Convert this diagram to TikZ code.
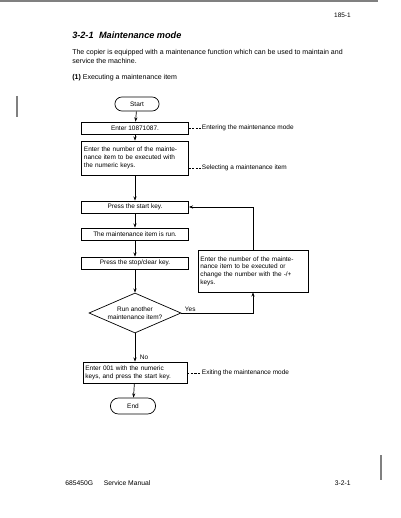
\documentclass[tikz,border=0pt]{standalone}
\usepackage{fontspec}
\setmainfont{Liberation Sans}
\usetikzlibrary{shapes.geometric, shapes.misc}
\usetikzlibrary{arrows.meta, positioning}

\begin{document}
\begin{tikzpicture}[x=0.025cm, y=-0.025cm,
        stepbox/.style={rectangle, draw, line width=0.5pt, minimum width=2.675cm, minimum height=0.3cm, inner sep=1.5pt, font=\fontsize{4.6}{5.5}\selectfont},
        termbox/.style={rounded rectangle, draw, line width=0.5pt, minimum width=1.175cm, minimum height=0.35cm, inner sep=1pt, font=\fontsize{4.6}{5.5}\selectfont},
        askbox/.style={diamond, draw, line width=0.5pt, aspect=2.3, minimum width=2.3cm, minimum height=1cm, inner sep=0pt, align=center, font=\fontsize{4.6}{5.5}\selectfont},
        note/.style={anchor=west, inner sep=0.5pt, font=\fontsize{4.6}{5.5}\selectfont},
        flow/.style={-{Stealth[length=3pt, width=2.2pt]}, line width=0.5pt},
        leader/.style={dashed, dash pattern=on 1.5pt off 1pt, line width=0.4pt},
        scanmark/.style={gray, line width=0.8pt}
    ]
        \useasboundingbox (0,0) rectangle (400,518);

        % Scan marks
        \draw[scanmark] (0,1) -- (378,1);
        \draw[scanmark] (17,96) -- (17,117);
        \draw[scanmark] (381,455) -- (381,480);

        % Page head
        \node[anchor=east, inner sep=0pt, font=\fontsize{4.6}{5.5}\selectfont] (pageno) at (351,15) {185-1};
        \node[anchor=west, inner sep=0pt, font=\fontsize{6.5}{7.5}\selectfont\bfseries\itshape] (title) at (72,35) {3-2-1\hspace{0.6em}Maintenance mode};
        \node[anchor=north west, inner sep=0pt, align=left, font=\fontsize{5}{6.4}\selectfont] (intro) at (72,49)
            {The copier is equipped with a maintenance function which can be used to maintain and\\service the machine.};
        \node[anchor=west, inner sep=0pt, font=\fontsize{5}{6}\selectfont] (sub) at (72,78) {\textbf{(1)} Executing a maintenance item};

        % Main flow
        \node[termbox] (start) at (137,104) {Start};
        \node[stepbox] (enter) at (135,128) {Enter 10871087.};
        \node[stepbox, minimum height=0.85cm, text width=2.55cm, align=left] (number) at (135,158)
            {Enter the number of the mainte-\\nance item to be executed with\\the numeric keys.};
        \node[stepbox] (press) at (135,207) {Press the start key.};
        \node[stepbox] (run) at (135,234) {The maintenance item is run.};
        \node[stepbox] (stop) at (135,263) {Press the stop/clear key.};
        \node[askbox] (another) at (135,313) {Run another\\maintenance item?};
        \node[stepbox, minimum width=2.6cm, minimum height=0.525cm, text width=2.48cm, align=left] (exit) at (135,372.5)
            {Enter 001 with the numeric\\keys, and press the start key.};
        \node[termbox, minimum width=1.2cm, minimum height=0.4cm] (end) at (133,406) {End};

        % Side box
        \node[stepbox, minimum width=2.75cm, minimum height=1.05cm, text width=2.63cm, align=left] (change) at (253,271)
            {Enter the number of the mainte-\\nance item to be executed or\\change the number with the -/+\\keys.};

        % Notes
        \node[note] (lblenter) at (201,128) {Entering the maintenance mode};
        \node[note] (lblselect) at (201,168) {Selecting a maintenance item};
        \node[note] (lblexit) at (201,373) {Exiting the maintenance mode};
        \node[note] (yes) at (184,309) {Yes};
        \node[note] (no) at (139,357) {No};

        % Connectors
        \draw[flow] (start) -- (enter);
        \draw[flow] (enter) -- (number);
        \draw[flow] (number) -- (press);
        \draw[flow] (press) -- (run);
        \draw[flow] (run) -- (stop);
        \draw[flow] (stop) -- (another);
        \draw[flow] (another) -- (exit);
        \draw[flow] (exit) -- (end);
        \draw[flow] (another.east) -| (change.south);
        \draw[flow] (change.north) |- (press.east);

        % Leaders
        \draw[leader] (enter.east) -- (lblenter.west);
        \draw[leader] (lblselect.west -| number.east) -- (lblselect.west);
        \draw[leader] (lblexit.west -| exit.east) -- (lblexit.west);

        % Page foot
        \node[anchor=west, inner sep=0pt, font=\fontsize{4.8}{6}\selectfont] (foot) at (65,483) {685450G\hspace{1.6em}Service Manual};
        \node[anchor=east, inner sep=0pt, font=\fontsize{4.8}{6}\selectfont] (footno) at (351,483) {3-2-1};
    \end{tikzpicture}
\end{document}
